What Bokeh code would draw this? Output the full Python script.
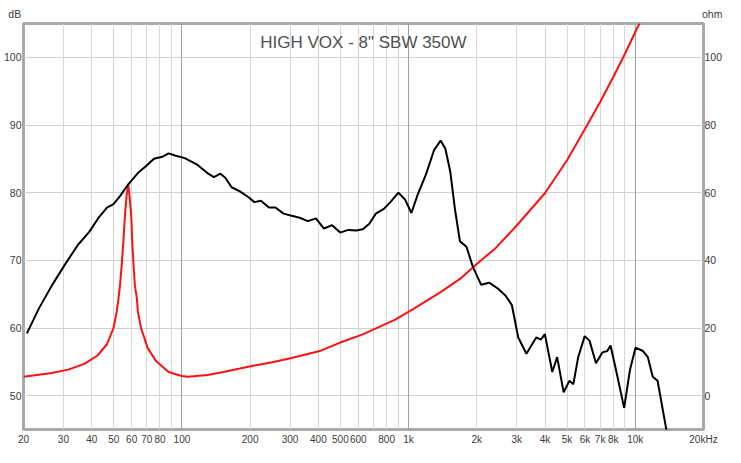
from bokeh.plotting import figure
from bokeh.models import Range1d, LinearAxis, LogAxis, FixedTicker, Grid, Label
from bokeh.embed import file_html
from bokeh.resources import INLINE

# SPL response (dB, left axis)
spl_freq = [20.7, 23.4, 26.7, 30.5, 34.8, 39.0, 43.1, 46.7, 49.9, 53.3,
            57.9, 63.9, 69.3, 75.3, 81.8, 87.3, 93.2, 102.9, 117.3, 129.5,
            138.4, 147.8, 155.3, 165.7, 180.1, 195.4, 208.8, 222.9, 242.2, 258.4,
            280.8, 304.8, 330.8, 359.4, 390, 423.3, 459.8, 499, 541.6, 588.5,
            628, 671, 716.8, 778, 831, 902, 963.8, 1029, 1099, 1193,
            1296, 1384, 1453, 1527, 1604, 1685, 1800, 1923, 2088, 2267,
            2462, 2673, 2854, 3046, 3310, 3653, 3838, 3992, 4305, 4522,
            4830, 5125, 5331, 5601, 5984, 6287, 6710, 7167, 7530, 7778,
            8173, 8932, 9476, 10024, 10815, 11362, 11937, 12542, 13746]
spl_db = [59.2, 62.9, 66.3, 69.4, 72.3, 74.2, 76.4, 77.8, 78.3, 79.5,
          81.2, 82.9, 83.9, 85.0, 85.3, 85.8, 85.5, 85.1, 84.1, 82.9,
          82.3, 82.8, 82.2, 80.8, 80.2, 79.4, 78.6, 78.8, 77.8, 77.8,
          76.9, 76.6, 76.3, 75.8, 76.2, 74.7, 75.2, 74.1, 74.5, 74.4,
          74.6, 75.4, 76.9, 77.6, 78.6, 80.0, 79.0, 77.0, 79.8, 82.7,
          86.3, 87.7, 86.5, 83.1, 77.4, 72.8, 72.0, 69.0, 66.4, 66.7,
          65.9, 64.8, 63.4, 58.6, 56.2, 58.6, 58.3, 59.1, 53.5, 55.7,
          50.5, 52.2, 51.7, 55.7, 58.8, 58.1, 54.8, 56.4, 56.6, 57.4,
          54.2, 48.2, 53.8, 57.1, 56.6, 55.7, 52.8, 52.2, 44.8]

# Impedance (ohm, right axis)
imp_freq = [20.0, 26.7, 31.5, 37.1, 42.3, 46.7, 49.9, 51.6, 52.5, 53.3,
            54.2, 55.1, 56.0, 56.9, 57.9, 58.8, 59.8, 60.4, 61.2, 62.0,
            63.3, 63.9, 66.0, 70.5, 76.5, 87.3, 99.6, 106.3, 129.5, 152.7,
            180, 212, 250, 295, 348, 410, 499, 628, 873, 1029,
            1384, 1685, 1987, 2420, 3000, 4000, 5000, 6000, 7000, 8000,
            9000, 10000, 10460]
imp_ohm = [5.6, 6.7, 7.7, 9.4, 11.8, 15.2, 20.0, 24.9, 28.7, 32.6,
           38.4, 45.1, 52.8, 58.6, 62.6, 58.6, 52.8, 45.1, 38.4, 32.6,
           28.7, 24.9, 20.0, 14.2, 10.4, 7.0, 5.8, 5.6, 6.1, 7.0,
           8.0, 9.0, 9.9, 10.9, 12.1, 13.3, 15.7, 18.1, 22.5, 25.3,
           30.6, 34.5, 38.8, 43.6, 50.3, 59.9, 69.6, 78.8, 86.8, 94.2,
           101.0, 107.5, 110.1]

x_label_ticks = [20, 30, 40, 50, 60, 70, 80, 100, 200, 300, 400, 500, 600, 800,
                 1000, 2000, 3000, 4000, 5000, 6000, 7000, 8000, 10000, 20000]
x_label_text = ["20", "30", "40", "50", "60", "70", "80", "100", "200", "300", "400",
                "500", "600", "800", "1k", "2k", "3k", "4k", "5k", "6k", "7k", "8k",
                "10k", "20kHz"]
x_grid_ticks = [20, 30, 40, 50, 60, 70, 80, 90, 200, 300, 400, 500, 600, 700, 800, 900,
                2000, 3000, 4000, 5000, 6000, 7000, 8000, 9000]
x_decades = [100, 1000, 10000]
db_ticks = [50, 60, 70, 80, 90, 100]
ohm_ticks = [0, 20, 40, 60, 80, 100]
unit_ticks = [20, 20000]
NB = "\u00a0"
unit_text = ["dB" + NB * 6, NB * 6 + "ohm"]

FONT = "Liberation Sans"
TXT = "#3a3a3a"

p = figure(width=725, height=447, x_axis_type="log",
           x_range=Range1d(20, 20000), y_range=Range1d(45, 105),
           output_backend="svg", toolbar_location=None, title=None,
           min_border_left=22, min_border_right=16, min_border_top=23, min_border_bottom=17)
p.extra_y_ranges = {"ohm": Range1d(-10, 110)}
p.background_fill_color = "white"
p.border_fill_color = "white"
p.outline_line_color = "#a9a9a9"
p.outline_line_width = 3

p.xgrid.ticker = FixedTicker(ticks=x_grid_ticks)
p.xgrid.grid_line_color = "#d6d6d6"
p.ygrid.ticker = FixedTicker(ticks=db_ticks)
p.ygrid.grid_line_color = "#d0d0d0"
p.add_layout(Grid(dimension=0, ticker=FixedTicker(ticks=x_decades),
                  grid_line_color="#a0a0a0"))

def style_axis(ax, size):
    ax.axis_line_color = None
    ax.major_tick_line_color = None
    ax.minor_tick_line_color = None
    ax.major_tick_out = 0
    ax.major_tick_in = 0
    ax.axis_label_standoff = 0
    ax.major_label_text_font = FONT
    ax.major_label_text_font_size = size
    ax.major_label_text_color = TXT

p.xaxis.ticker = FixedTicker(ticks=x_label_ticks)
p.xaxis.major_label_overrides = dict(zip(x_label_ticks, x_label_text))
p.yaxis.ticker = FixedTicker(ticks=db_ticks)
style_axis(p.xaxis[0], "10px")
style_axis(p.yaxis[0], "10.5px")
p.xaxis.major_label_standoff = 4
p.yaxis.major_label_standoff = 2

rax = LinearAxis(y_range_name="ohm", ticker=FixedTicker(ticks=ohm_ticks))
style_axis(rax, "10.5px")
rax.major_label_standoff = 1
p.add_layout(rax, "right")

tax = LogAxis(ticker=FixedTicker(ticks=unit_ticks),
              major_label_overrides=dict(zip(unit_ticks, unit_text)))
style_axis(tax, "10.5px")
tax.major_label_standoff = 4
p.add_layout(tax, "above")

p.line(imp_freq, imp_ohm, y_range_name="ohm", line_color="#ff1010", line_width=2)
p.line(spl_freq, spl_db, line_color="#000000", line_width=2)

p.add_layout(Label(x=632, y=102.26, text='HIGH VOX - 8" SBW 350W',
                   text_font=FONT, text_font_size="17px", text_color="#505050",
                   text_align="center", text_baseline="middle"))

open("out.html", "w").write(file_html(p, INLINE))
